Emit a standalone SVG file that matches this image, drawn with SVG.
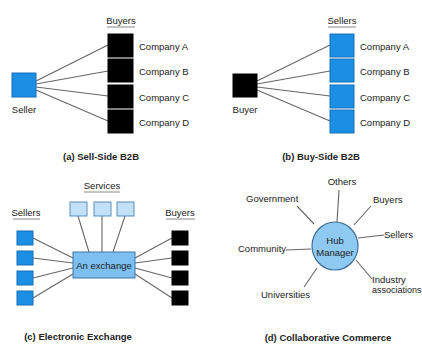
<svg xmlns="http://www.w3.org/2000/svg" width="422" height="347" viewBox="0 0 422 347">
  <style>
    text { font-family: "Liberation Sans", Arial, sans-serif; font-size: 9.5px; fill: #222; }
    .cap { font-weight: bold; font-size: 9.5px; text-anchor: middle; }
    .mid { text-anchor: middle; }
    .blue { fill: #1b8fe3; stroke: #1670b8; stroke-width: 1; }
    .black { fill: #000; stroke: #000; stroke-width: 1; }
    .svc { fill: #c2e0f8; stroke: #5a8db8; stroke-width: 1; }
    .ex { fill: #7cbff0; stroke: #3d77a8; stroke-width: 1; }
    .hub { fill: #8ec9f2; stroke: #3d6f9a; stroke-width: 1.2; }
    .ln { stroke: #666; stroke-width: 1.1; fill: none; }
    .ul { stroke: #888; stroke-width: 1; }
  </style>
  <rect width="422" height="347" fill="#fff"/>

  <!-- connectors -->
  <g id="connectors" class="ln">
    <!-- (a) sell-side -->
    <line x1="36" y1="81" x2="108" y2="45"/>
    <line x1="36" y1="84" x2="108" y2="71"/>
    <line x1="36" y1="87" x2="108" y2="96"/>
    <line x1="36" y1="90" x2="108" y2="121"/>
    <!-- (b) buy-side -->
    <line x1="257" y1="81" x2="330" y2="45"/>
    <line x1="257" y1="84" x2="330" y2="71"/>
    <line x1="257" y1="87" x2="330" y2="96"/>
    <line x1="257" y1="90" x2="330" y2="121"/>
    <!-- (c) exchange -->
    <line x1="33" y1="238" x2="73" y2="258"/>
    <line x1="33" y1="258" x2="73" y2="263"/>
    <line x1="33" y1="278" x2="73" y2="268"/>
    <line x1="33" y1="298" x2="73" y2="274"/>
    <line x1="135" y1="258" x2="172" y2="238"/>
    <line x1="135" y1="263" x2="172" y2="258"/>
    <line x1="135" y1="268" x2="172" y2="278"/>
    <line x1="135" y1="274" x2="172" y2="298"/>
    <line x1="78" y1="216" x2="89" y2="252"/>
    <line x1="102" y1="216" x2="102" y2="252"/>
    <line x1="125" y1="216" x2="113" y2="252"/>
    <!-- (d) hub spokes -->
    <line x1="339" y1="190" x2="337" y2="222"/>
    <line x1="297" y1="206" x2="314" y2="224"/>
    <line x1="371" y1="206" x2="354" y2="225"/>
    <line x1="358" y1="238" x2="384" y2="235"/>
    <line x1="286" y1="250" x2="311" y2="249"/>
    <line x1="356" y1="260" x2="372" y2="279"/>
    <line x1="317" y1="268" x2="304" y2="287"/>
  </g>

  <!-- (a) Sell-Side B2B -->
  <g id="a-seller">
    <rect class="blue" x="12" y="73" width="24" height="24"/>
    <text class="mid" x="24" y="113">Seller</text>
  </g>
  <g id="a-buyers-label">
    <text class="mid" x="121" y="24">Buyers</text>
    <line class="ul" x1="107" y1="27" x2="135" y2="27"/>
  </g>
  <g id="a-company-a"><rect class="black" x="108" y="34" width="25" height="23"/><text x="139" y="50">Company A</text></g>
  <g id="a-company-b"><rect class="black" x="108" y="59" width="25" height="23"/><text x="139" y="75">Company B</text></g>
  <g id="a-company-c"><rect class="black" x="108" y="85" width="25" height="23"/><text x="139" y="101">Company C</text></g>
  <g id="a-company-d"><rect class="black" x="108" y="110" width="25" height="23"/><text x="139" y="126">Company D</text></g>
  <text class="cap" x="101" y="160">(a) Sell-Side B2B</text>

  <!-- (b) Buy-Side B2B -->
  <g id="b-buyer">
    <rect class="black" x="233" y="74" width="24" height="23"/>
    <text class="mid" x="245" y="113">Buyer</text>
  </g>
  <g id="b-sellers-label">
    <text class="mid" x="342" y="24">Sellers</text>
    <line class="ul" x1="328" y1="27" x2="356" y2="27"/>
  </g>
  <g id="b-company-a"><rect class="blue" x="330" y="34" width="24" height="23"/><text x="360" y="50">Company A</text></g>
  <g id="b-company-b"><rect class="blue" x="330" y="59" width="24" height="23"/><text x="360" y="75">Company B</text></g>
  <g id="b-company-c"><rect class="blue" x="330" y="85" width="24" height="23"/><text x="360" y="101">Company C</text></g>
  <g id="b-company-d"><rect class="blue" x="330" y="110" width="24" height="23"/><text x="360" y="126">Company D</text></g>
  <text class="cap" x="321" y="160">(b) Buy-Side B2B</text>

  <!-- (c) Electronic Exchange -->
  <g id="c-sellers">
    <text class="mid" x="26" y="216">Sellers</text>
    <line class="ul" x1="13" y1="219" x2="40" y2="219"/>
    <rect class="blue" x="17" y="231" width="16" height="14"/>
    <rect class="blue" x="17" y="251" width="16" height="14"/>
    <rect class="blue" x="17" y="271" width="16" height="14"/>
    <rect class="blue" x="17" y="291" width="16" height="14"/>
  </g>
  <g id="c-services">
    <text class="mid" x="102" y="189">Services</text>
    <line class="ul" x1="84" y1="192" x2="120" y2="192"/>
    <rect class="svc" x="70" y="202" width="17" height="14"/>
    <rect class="svc" x="94" y="202" width="17" height="14"/>
    <rect class="svc" x="117" y="202" width="17" height="14"/>
  </g>
  <g id="c-exchange">
    <rect class="ex" x="73" y="252" width="62" height="26"/>
    <text class="mid" x="104" y="268.5">An exchange</text>
  </g>
  <g id="c-buyers">
    <text class="mid" x="180" y="216">Buyers</text>
    <line class="ul" x1="166" y1="219" x2="195" y2="219"/>
    <rect class="black" x="172" y="231" width="16" height="14"/>
    <rect class="black" x="172" y="251" width="16" height="14"/>
    <rect class="black" x="172" y="271" width="16" height="14"/>
    <rect class="black" x="172" y="291" width="16" height="14"/>
  </g>
  <text class="cap" x="78" y="340">(c) Electronic Exchange</text>

  <!-- (d) Collaborative Commerce -->
  <g id="d-hub">
    <ellipse class="hub" cx="335" cy="246" rx="23" ry="24"/>
    <text class="mid" x="335" y="244">Hub</text>
    <text class="mid" x="335" y="256">Manager</text>
  </g>
  <g id="d-others"><text class="mid" x="342" y="185">Others</text></g>
  <g id="d-government"><text x="246" y="202">Government</text></g>
  <g id="d-buyers"><text x="373" y="203">Buyers</text></g>
  <g id="d-sellers"><text x="384" y="238">Sellers</text></g>
  <g id="d-community"><text x="238" y="252">Community</text></g>
  <g id="d-industry"><text x="372" y="283">Industry</text><text x="372" y="293" style="font-size:9px">associations</text></g>
  <g id="d-universities"><text x="261" y="298">Universities</text></g>
  <text class="cap" x="328" y="341">(d) Collaborative Commerce</text>
</svg>
